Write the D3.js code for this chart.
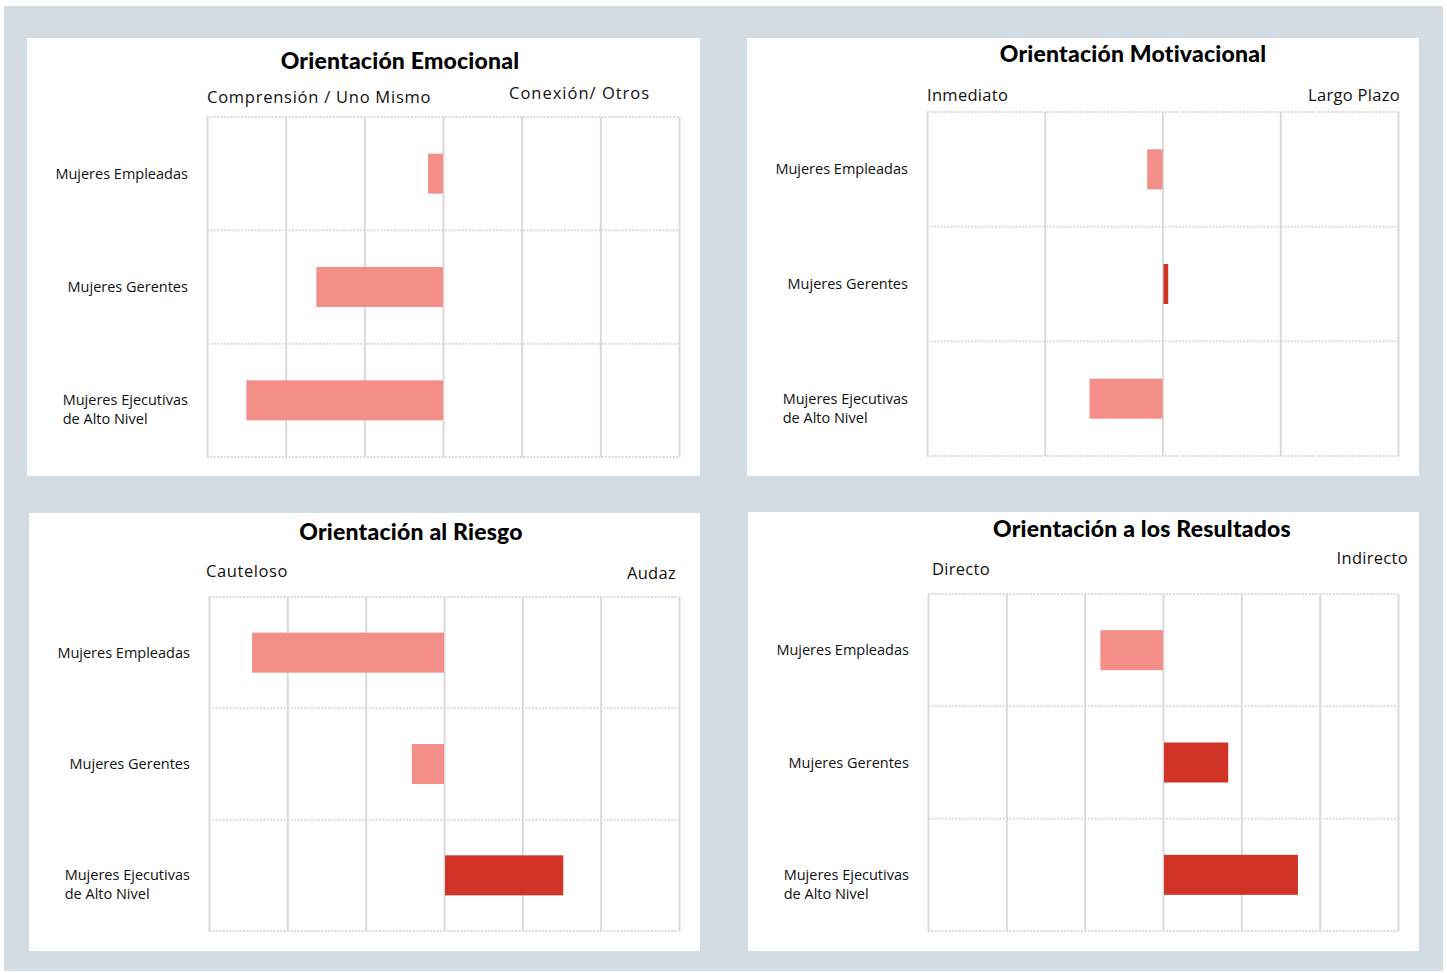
<!DOCTYPE html>
<html><head><meta charset="utf-8">
<script src="https://cdn.jsdelivr.net/npm/d3@7"></script>
<style>
html,body{margin:0;padding:0;background:#fff;}
svg{display:block;}
</style></head>
<body>
<svg id="chart" width="1447" height="973"></svg>
<script>
// ---- data ----
const categories = [["Mujeres Empleadas"], ["Mujeres Gerentes"], ["Mujeres Ejecutivas", "de Alto Nivel"]];
const titles = ["Orientación Emocional", "Orientación Motivacional", "Orientación al Riesgo", "Orientación a los Resultados"];
const leftLabels = ["Comprensión / Uno Mismo", "Inmediato", "Cauteloso", "Directo"];
const rightLabels = ["Conexión/ Otros", "Largo Plazo", "Audaz", "Indirecto"];
const emocionalValues = [-0.19, -1.61, -2.5];
const motivacionalValues = [-0.13, 0.04, -0.62];
const riesgoValues = [-2.45, -0.41, 1.51];
const resultadosValues = [-0.8, 0.82, 1.71];
const domains = [[-3, 3], [-2, 2], [-3, 3], [-3, 3]];
const seriesValues = [emocionalValues, motivacionalValues, riesgoValues, resultadosValues];

// ---- layout (positions / styles, separate from data) ----
const layout = [
  {box:[27,38,673,438], plot:[207,117,679,457], titleX:400, titleY:69,
   left:{x:207,y:103,anchor:"start",ls:0.75}, right:{x:509,y:99,anchor:"start",ls:1}},
  {box:[747,38,672,438], plot:[927,112,1398,456], titleX:1133, titleY:62,
   left:{x:927,y:101,anchor:"start",ls:0.3}, right:{x:1400,y:101,anchor:"end",ls:0.3}},
  {box:[29,513,671,438], plot:[209,597,679,931], titleX:411, titleY:540,
   left:{x:206,y:577,anchor:"start",ls:0.6}, right:{x:676,y:579,anchor:"end",ls:0.3}},
  {box:[748,512,671,439], plot:[928,594,1398,931], titleX:1142, titleY:537,
   left:{x:932,y:575,anchor:"start",ls:0.3}, right:{x:1408,y:564,anchor:"end",ls:0.3}}
];
const negColor = "#f48e88", posColor = "#d13327";
const gridColor = "#d9d9d9";
const titleFont = "Lato, 'Open Sans', sans-serif";
const labelFont = "'Open Sans', 'Noto Sans', sans-serif";

const svg = d3.select("#chart");
svg.append("rect").attr("x",4).attr("y",6).attr("width",1439).attr("height",965).attr("fill","#d3dbe3");

layout.forEach((L, i) => {
  const g = svg.append("g");
  g.append("rect").attr("x",L.box[0]).attr("y",L.box[1]).attr("width",L.box[2]).attr("height",L.box[3]).attr("fill","#fff");
  const [x0,y0,x1,y1] = L.plot;
  const x = d3.scaleLinear().domain(domains[i]).range([x0,x1]);
  const y = d3.scaleBand().domain(d3.range(categories.length)).range([y0,y1]).paddingInner(0).paddingOuter(0);

  // horizontal dotted band lines
  const hs = d3.range(categories.length+1).map(k => k < categories.length ? y(k) : y1);
  g.selectAll(".hl").data(hs).join("line")
    .attr("x1",x0).attr("x2",x1).attr("y1",d=>d).attr("y2",d=>d)
    .attr("stroke","#dadada").attr("stroke-width",2).attr("stroke-dasharray","2,1.4");

  // vertical grid via axis
  const ticks = d3.range(domains[i][0], domains[i][1]+1, 1);
  const ax = g.append("g").attr("transform",`translate(0,${y1})`)
    .call(d3.axisBottom(x).tickValues(ticks).tickSize(-(y1-y0)).tickFormat(""));
  ax.select(".domain").remove();
  ax.selectAll(".tick line").attr("stroke",gridColor).attr("stroke-width",2);

  // bars
  const bh = 40;
  g.selectAll(".bar").data(seriesValues[i]).join("rect")
    .attr("x", d => Math.min(x(0), x(d)) + (d > 0 ? 1 : 0))
    .attr("width", d => Math.abs(x(d) - x(0)))
    .attr("y", (d,k) => y(k) + y.bandwidth()/2 - bh/2)
    .attr("height", bh)
    .attr("fill", d => d < 0 ? negColor : posColor);

  // title
  g.append("text").attr("x",L.titleX).attr("y",L.titleY).attr("text-anchor","middle")
    .attr("font-family",titleFont).attr("font-weight",900).attr("font-size",23)
    .attr("letter-spacing",0.2).attr("fill","#000").text(titles[i]);

  // extreme labels
  [[leftLabels[i],L.left],[rightLabels[i],L.right]].forEach(([t,p]) => {
    g.append("text").attr("x",p.x).attr("y",p.y).attr("text-anchor",p.anchor)
      .attr("font-family",labelFont).attr("font-size",16.5).attr("letter-spacing",p.ls)
      .attr("fill","#111").text(t);
  });

  // category labels (block right edge at plot left - 19; first line on band centre)
  categories.forEach((lines, k) => {
    const cy = y(k) + y.bandwidth()/2;
    const t = g.append("text").attr("font-family",labelFont).attr("font-size",14.5).attr("fill","#111");
    const lh = 19;
    lines.forEach((ln, j) => {
      t.append("tspan").attr("x",0).attr("y",cy + 5 + j*lh).text(ln);
    });
    const w = t.node().getBBox().width;
    t.selectAll("tspan").attr("x", x0 - 19 - w);
  });
});
</script>
</body></html>
